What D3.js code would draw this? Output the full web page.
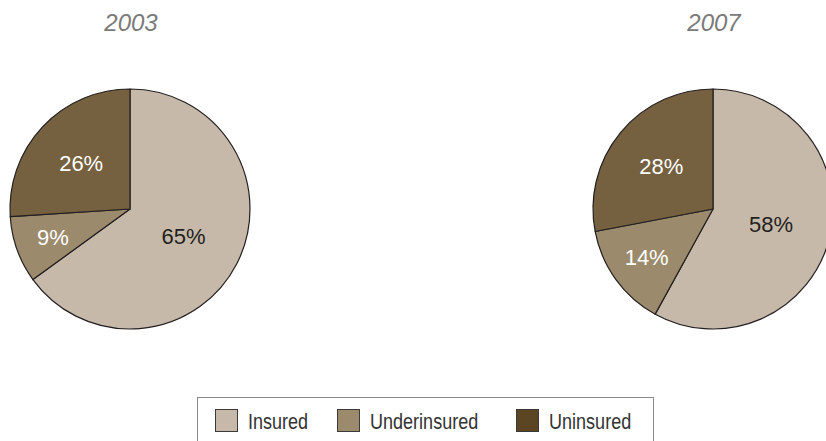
<!DOCTYPE html>
<html>
<head>
<meta charset="utf-8">
<script src="https://cdn.jsdelivr.net/npm/d3@7"></script>
<style>
  html, body { margin: 0; padding: 0; background: #fff; }
  svg { display: block; }
</style>
</head>
<body>
<svg id="chart" width="826" height="441"></svg>
<script>
// Coverage status shares, by survey year
const years = ["2003", "2007"];
const categories = ["Insured", "Underinsured", "Uninsured"];
const values2003 = [65, 9, 26];
const values2007 = [58, 14, 28];
const sliceColors = ["#c6b9a9", "#9c8a6c", "#75603f"];
const legendColors = ["#c6b9a9", "#9c8a6c", "#5b4522"];
const labelColors = ["#231f20", "#ffffff", "#ffffff"];

const svg = d3.select("#chart");
const R = 120;

// pie centres spread across the width
const xPos = d3.scalePoint().domain(years).range([130, 713]);
const cy = 209;

const pie = d3.pie().sort(null).value(d => d.value);
const arc = d3.arc().innerRadius(0).outerRadius(R);

const series = [values2003, values2007];

years.forEach((yr, i) => {
  const cx = xPos(yr);
  const data = categories.map((c, k) => ({ cat: c, value: series[i][k], idx: k }));
  const g = svg.append("g").attr("transform", `translate(${cx},${cy})`);

  g.selectAll("path")
    .data(pie(data))
    .join("path")
    .attr("d", arc)
    .attr("fill", d => sliceColors[d.data.idx])
    .attr("stroke", "#231f20")
    .attr("stroke-width", 1.2)
    .attr("stroke-linejoin", "round");

  // label radius grows for thinner slices
  const labelR = v => v > 50 ? 60 : v > 20 ? 67 : 82;
  g.selectAll("text.pct")
    .data(pie(data))
    .join("text")
    .attr("class", "pct")
    .attr("transform", d => {
      const a = (d.startAngle + d.endAngle) / 2;
      const r = labelR(d.data.value);
      return `translate(${Math.sin(a) * r},${-Math.cos(a) * r})`;
    })
    .attr("text-anchor", "middle")
    .attr("dy", "0.36em")
    .attr("font-family", "'Liberation Sans', Arial, sans-serif")
    .attr("font-size", 22)
    .attr("fill", d => labelColors[d.data.idx])
    .text(d => d.data.value + "%");

  svg.append("text")
    .attr("x", cx + 1)
    .attr("y", 30.5)
    .attr("text-anchor", "middle")
    .attr("font-family", "'Liberation Sans', Arial, sans-serif")
    .attr("font-style", "italic")
    .attr("font-size", 24)
    .attr("fill", "#7a7a7a")
    .text(yr);
});

// Legend
const legend = svg.append("g");
legend.append("rect")
  .attr("x", 197.5).attr("y", 397.5)
  .attr("width", 456).attr("height", 60)
  .attr("fill", "#fff")
  .attr("stroke", "#8a8a8a")
  .attr("stroke-width", 1);

const legendX = d3.scaleOrdinal().domain(categories).range([215, 337, 516]);
categories.forEach((c, k) => {
  const x = legendX(c);
  legend.append("rect")
    .attr("x", x + 0.5).attr("y", 409.5)
    .attr("width", 22).attr("height", 22)
    .attr("fill", legendColors[k])
    .attr("stroke", "#3a3a3a")
    .attr("stroke-width", 1);
  // condensed legend lettering
  legend.append("text")
    .attr("transform", `translate(${x + 33},429) scale(0.82,1)`)
    .attr("font-family", "'Liberation Sans', Arial, sans-serif")
    .attr("font-size", 22)
    .attr("fill", "#333")
    .text(c);
});
</script>
</body>
</html>
